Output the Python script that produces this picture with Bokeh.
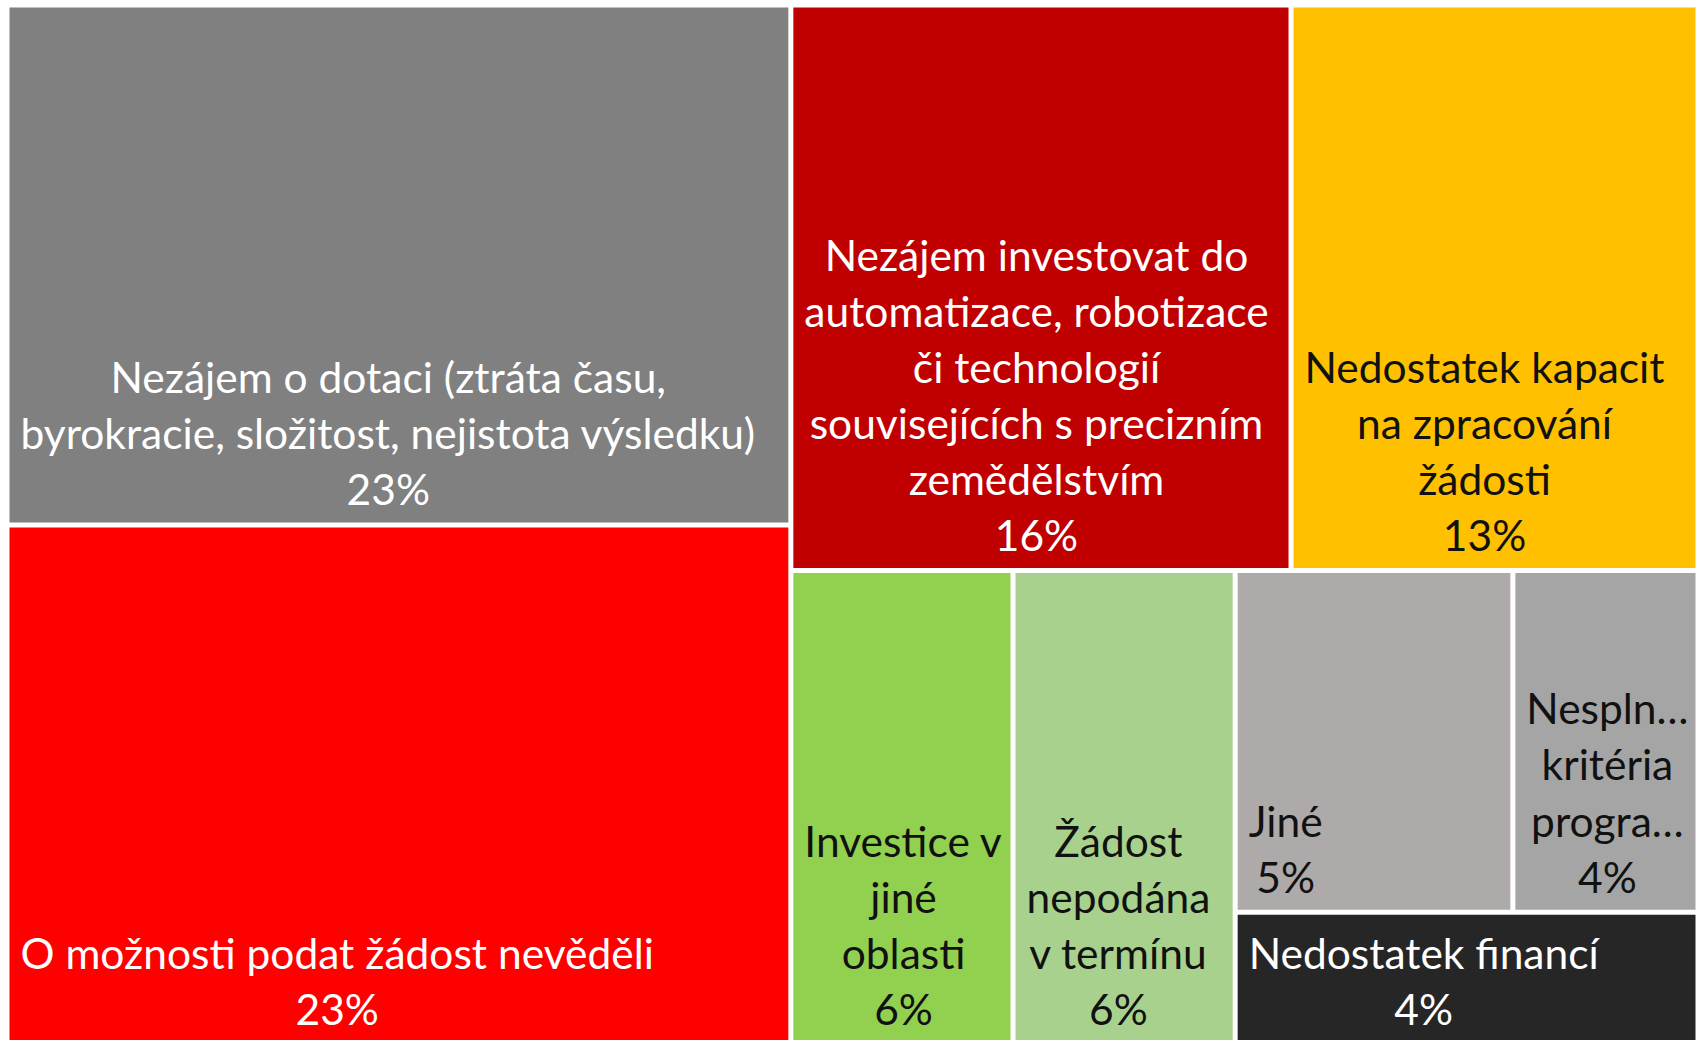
from bokeh.plotting import figure
from bokeh.models import ColumnDataSource, Range1d
from bokeh.core.properties import value
from bokeh.embed import file_html
from bokeh.resources import INLINE

# ---- data ----
categories = [
    "Nezájem o dotaci (ztráta času,\nbyrokracie, složitost, nejistota výsledku)",
    "O možnosti podat žádost nevěděli",
    "Nezájem investovat do\nautomatizace, robotizace\nči technologií\nsouvisejících s precizním\nzemědělstvím",
    "Nedostatek kapacit\nna zpracování\nžádosti",
    "Investice v\njiné\noblasti",
    "Žádost\nnepodána\nv termínu",
    "Jiné",
    "Nespln…\nkritéria\nprogra…",
    "Nedostatek financí",
]
values = [23.2, 23.2, 16.1, 13.1, 6.0, 6.0, 5.4, 3.6, 3.5]
pct_labels = ["23%", "23%", "16%", "13%", "6%", "6%", "5%", "4%", "4%"]
tile_colors = ["#808080", "#FF0000", "#C00000", "#FFC000", "#92D050",
               "#A9D18E", "#AEAAAA", "#A5A5A5", "#262626"]
text_colors = ["#FFFFFF", "#FFFFFF", "#FFFFFF", "#111111", "#111111",
               "#111111", "#111111", "#111111", "#FFFFFF"]

# treemap structure: "row" = side by side, "col" = stacked
plan = ("row", [("col", [0, 1]),
                ("col", [("row", [2, 3]),
                         ("row", [4, 5, ("col", [("row", [6, 7]), 8])])])])

W, H = 1700, 1040
GAP = 5.0


def total(node):
    if isinstance(node, int):
        return values[node]
    return sum(total(c) for c in node[1])


rects = {}


def layout(node, x0, x1, t0, t1):
    if isinstance(node, int):
        rects[node] = (x0, x1, t0, t1)
        return
    kind, children = node
    s = total(node)
    pos = x0 if kind == "row" else t0
    for c in children:
        frac = total(c) / s
        if kind == "row":
            step = (x1 - x0) * frac
            layout(c, pos, pos + step, t0, t1)
        else:
            step = (t1 - t0) * frac
            layout(c, x0, x1, pos, pos + step)
        pos += step


layout(plan, 9 - GAP / 2, 1695 + GAP / 2, 7 - GAP / 2, 1042 + GAP / 2)

n = len(values)
left = [rects[i][0] + GAP / 2 for i in range(n)]
right = [rects[i][1] - GAP / 2 for i in range(n)]
top = [rects[i][2] + GAP / 2 for i in range(n)]
bottom = [rects[i][3] - GAP / 2 for i in range(n)]
labels = [categories[i] + "\n" + pct_labels[i] for i in range(n)]

src = ColumnDataSource(dict(left=left, right=right, top=top, bottom=bottom,
                            color=tile_colors, tcolor=text_colors, label=labels,
                            lx=[l + 11 for l in left], ly=[b - 8 for b in bottom]))

p = figure(width=W, height=H, x_range=Range1d(0, W), y_range=Range1d(H, 0),
           output_backend="svg", toolbar_location=None, min_border=0,
           x_axis_location=None, y_axis_location=None)
p.grid.visible = False
p.outline_line_color = None
p.background_fill_color = "white"
p.border_fill_color = "white"

p.quad(left="left", right="right", top="top", bottom="bottom", source=src,
       fill_color="color", line_color=None)
p.text(x="lx", y="ly", text="label", source=src, anchor="bottom_left",
       text_align="center", text_font=value("Lato"), text_font_size="42.5px",
       text_color="tcolor", text_line_height=1.1)

open("out.html", "w").write(file_html(p, INLINE))
